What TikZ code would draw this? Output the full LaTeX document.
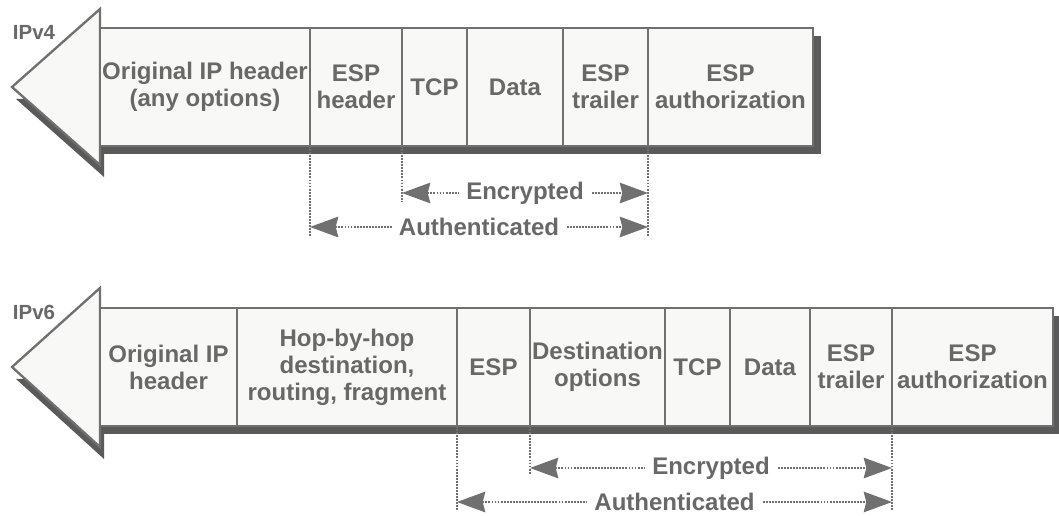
\documentclass[tikz,border=0pt]{standalone}
\usepackage{fontspec}
\setmainfont{Liberation Sans}
\usetikzlibrary{positioning,calc,arrows.meta,backgrounds}
\definecolor{framegray}{RGB}{112,112,112}
\definecolor{cellfill}{RGB}{248,248,246}
\definecolor{shadowgray}{RGB}{90,90,90}
\definecolor{inkgray}{RGB}{104,104,104}
\newcommand{\pxu}{0.03cm}

\begin{document}
\begin{tikzpicture}[
    x=0.03cm, y=-0.03cm,
    field/.style={rectangle, draw=framegray, line width=2pt, fill=cellfill, minimum width=#1*\pxu, minimum height=118*\pxu, inner sep=0pt, outer sep=0pt, align=center, text=inkgray, font=\fontsize{20.5}{23}\selectfont\bfseries},
    headline/.style={draw=framegray, line width=2pt, fill=cellfill, line join=miter},
    tag/.style={text=inkgray, font=\fontsize{17.5}{19}\selectfont\bfseries},
    dimline/.style={draw=framegray, line width=0.9pt, dash pattern=on 1.6pt off 1pt},
    dimarrow/.style={dimline, {Stealth[length=0.85cm, width=0.62cm, inset=0.08cm]}-{Stealth[length=0.85cm, width=0.62cm, inset=0.08cm]}},
    lbl/.style={fill=white, inner xsep=6pt, inner ysep=1pt, text=inkgray, font=\fontsize{20.5}{22}\selectfont\bfseries}
]
    \useasboundingbox (0,0) rectangle (1059,516);

    % IPv4 packet
    \node[field=210] (v4orig) at (205,87) {Original IP header\\(any options)};
    \node[field=92, right=0pt of v4orig] (v4esph) {ESP\\header};
    \node[field=65, right=0pt of v4esph] (v4tcp) {TCP};
    \node[field=96, right=0pt of v4tcp] (v4data) {Data};
    \node[field=85, right=0pt of v4data] (v4trail) {ESP\\trailer};
    \node[field=165, right=0pt of v4trail] (v4auth) {ESP\\authorization};
    \node[tag] (v4tag) at ($(v4orig.north west)+(-66,4)$) {IPv4};

    % IPv6 packet
    \node[field=137] (v6orig) at (168.5,367) {Original IP\\header};
    \node[field=220, right=0pt of v6orig] (v6ext) {Hop-by-hop\\destination,\\routing, fragment};
    \node[field=73, right=0pt of v6ext] (v6esp) {ESP};
    \node[field=135, right=0pt of v6esp] (v6dest) {Destination\\options};
    \node[field=65, right=0pt of v6dest] (v6tcp) {TCP};
    \node[field=80, right=0pt of v6tcp] (v6data) {Data};
    \node[field=82, right=0pt of v6data] (v6trail) {ESP\\trailer};
    \node[field=161, right=0pt of v6trail] (v6auth) {ESP\\authorization};
    \node[tag] (v6tag) at ($(v6orig.north west)+(-66,4)$) {IPv6};

    % shadows and arrow heads
    \begin{scope}[on background layer]
        \fill[shadowgray] ($(v4orig.north west)+(0,8)$) rectangle ($(v4auth.south east)+(8,8)$);
        \fill[shadowgray] ($(v4orig.west)+(-84,12)$) -- ($(v4orig.south west)+(4,31)$) -- ($(v4orig.west)+(4,12)$) -- cycle;
        \draw[headline] ($(v4orig.north west)+(0,-19)$) -- ($(v4orig.west)+(-88,0)$) -- ($(v4orig.south west)+(0,19)$) -- cycle;

        \fill[shadowgray] ($(v6orig.north west)+(0,8)$) rectangle ($(v6auth.south east)+(8,8)$);
        \fill[shadowgray] ($(v6orig.west)+(-84,12)$) -- ($(v6orig.south west)+(4,33)$) -- ($(v6orig.west)+(4,12)$) -- cycle;
        \draw[headline] ($(v6orig.north west)+(0,-20)$) -- ($(v6orig.west)+(-88,0)$) -- ($(v6orig.south west)+(0,21)$) -- cycle;
    \end{scope}

    % IPv4 coverage
    \coordinate (v4enclev) at (0,193);
    \coordinate (v4authlev) at (0,227);
    \draw[dimline] (v4esph.south west) -- ++(0,91);
    \draw[dimline] (v4tcp.south west) -- ++(0,56);
    \draw[dimline] (v4trail.south east) -- ++(0,91);
    \draw[dimarrow] (v4tcp.south west |- v4enclev) -- node[lbl] (v4enc) {Encrypted} (v4trail.south east |- v4enclev);
    \draw[dimarrow] (v4esph.south west |- v4authlev) -- node[lbl] (v4auten) {Authenticated} (v4trail.south east |- v4authlev);

    % IPv6 coverage
    \coordinate (v6enclev) at (0,468);
    \coordinate (v6authlev) at (0,502);
    \draw[dimline] (v6esp.south west) -- ++(0,84);
    \draw[dimline] (v6dest.south west) -- ++(0,48);
    \draw[dimline] (v6trail.south east) -- ++(0,84);
    \draw[dimarrow] (v6dest.south west |- v6enclev) -- node[lbl] (v6enc) {Encrypted} (v6trail.south east |- v6enclev);
    \draw[dimarrow] (v6esp.south west |- v6authlev) -- node[lbl] (v6auten) {Authenticated} (v6trail.south east |- v6authlev);
\end{tikzpicture}
\end{document}
